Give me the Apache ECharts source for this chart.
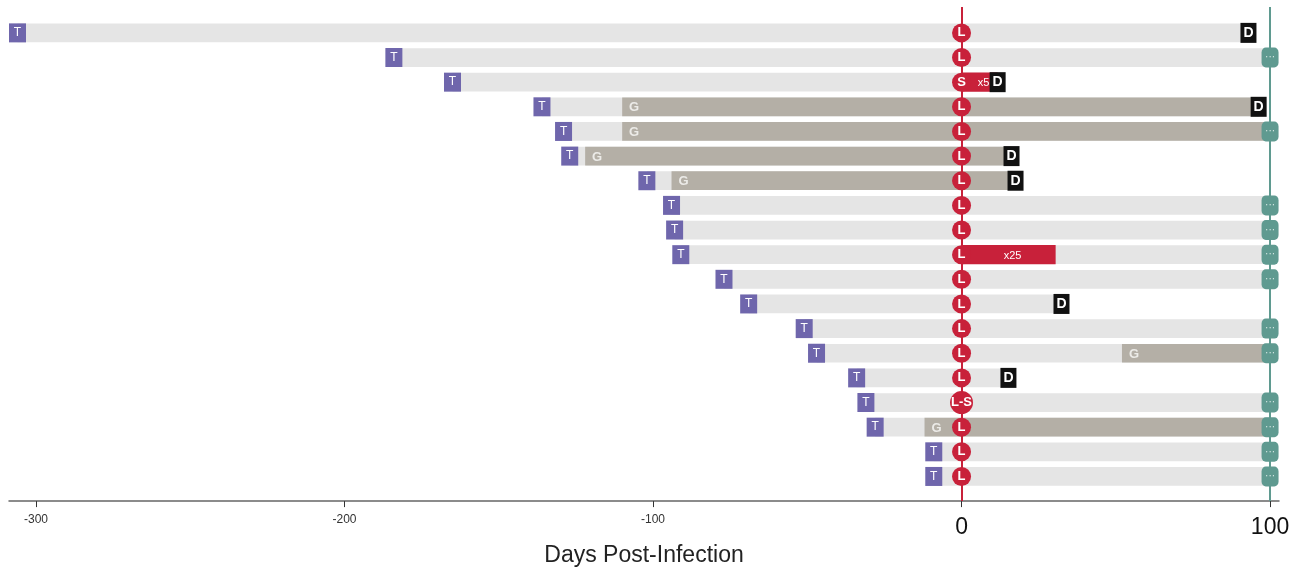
<!DOCTYPE html>
<html>
<head>
<meta charset="utf-8">
<script src="https://cdn.jsdelivr.net/npm/echarts@6/dist/echarts.min.js"></script>
<style>
  html, body { margin: 0; padding: 0; background: #fff; }
  #chart { width: 1308px; height: 572px; }
</style>
</head>
<body>
<div id="chart"></div>
<script>
// one entry per patient row, top to bottom (days post-infection)
var transplantDay = [-306, -184, -165, -136, -129, -127, -102, -94, -93, -91, -77, -69, -51, -47, -34, -31, -28, -9, -9];
var graftDay = [null, null, null, -110, -110, -122, -94, null, null, null, null, null, null, 52, null, null, -12, null, null];
var lastDay = [93, 100, 11.7, 96.3, 100, 16.2, 17.5, 100, 100, 100, 100, 32.4, 100, 100, 15.2, 100, 100, 100, 100];
var outcome = ['D', '...', 'D', 'D', '...', 'D', 'D', '...', '...', '...', '...', 'D', '...', '...', 'D', '...', '...', '...', '...'];
var infectionMark = ['L', 'L', 'S', 'L', 'L', 'L', 'L', 'L', 'L', 'L', 'L', 'L', 'L', 'L', 'L', 'L-S', 'L', 'L', 'L'];
// shedding bars: row, from, to, label
var sheddingRow = [2, 9];
var sheddingFrom = [0, 0];
var sheddingTo = [11.7, 30.5];
var sheddingText = ['x5', 'x25'];
var tickValues = [-300, -200, -100, 0, 100];

var FONT = 'Liberation Sans';
var chart = echarts.init(document.getElementById('chart'));

var lightData = transplantDay.map(function (t, i) { return [i, t, lastDay[i]]; });
var darkData = [];
graftDay.forEach(function (g, i) {
  if (g !== null) darkData.push([i, g, lastDay[i]]);
});
var redData = sheddingRow.map(function (r, i) {
  return [r, sheddingFrom[i], sheddingTo[i], sheddingText[i]];
});
var tData = transplantDay.map(function (t, i) { return [t, i]; });
var lData = infectionMark.map(function (m, i) {
  return { value: [0, i], name: m, symbolSize: m === 'L-S' ? 23 : 19 };
});
var dData = [], endData = [];
outcome.forEach(function (o, i) {
  if (o === 'D') dData.push([lastDay[i], i]);
  else endData.push([lastDay[i], i]);
});

function barItem(color, withG) {
  return function (params, api) {
    var row = api.value(0);
    var p0 = api.coord([api.value(1), row]);
    var p1 = api.coord([api.value(2), row]);
    var h = api.size([0, 1])[1] * 0.76;
    var children = [{
      type: 'rect',
      shape: { x: p0[0], y: p0[1] - h / 2, width: p1[0] - p0[0], height: h },
      style: { fill: color }
    }];
    if (withG) {
      children.push({
        type: 'text',
        x: p0[0] + 12, y: p0[1] + 1,
        style: { text: 'G', fill: '#ecebe8', font: 'bold 13px ' + FONT, align: 'center', verticalAlign: 'middle' }
      });
    }
    return { type: 'group', children: children };
  };
}

var option = {
  animation: false,
  grid: { left: 9, right: 29, top: 7, bottom: 69 },
  xAxis: {
    type: 'value',
    min: -308.75,
    max: 102.9,
    splitLine: { show: false },
    axisLine: { onZero: false, lineStyle: { color: '#666', width: 1.5 } },
    axisTick: { customValues: tickValues, length: 6, lineStyle: { color: '#333' } },
    axisLabel: {
      customValues: tickValues,
      margin: 12,
      formatter: function (v) {
        return v >= 0 ? '{big|' + v + '}' : '{small|' + v + '}';
      },
      rich: {
        small: { fontSize: 12, color: '#333', fontFamily: FONT, padding: [1, 0, 0, 0] },
        big: { fontSize: 23, color: '#111', fontFamily: FONT, padding: [3, 0, 0, 0] }
      }
    },
    name: 'Days Post-Infection',
    nameLocation: 'middle',
    nameGap: 39,
    nameTextStyle: { fontSize: 23, color: '#222', fontFamily: FONT }
  },
  yAxis: { type: 'value', inverse: true, min: -1.05, max: 19, show: false },
  series: [
    {
      type: 'scatter', data: [], z: 1, silent: true,
      markLine: {
        silent: true, symbol: ['none', 'none'], label: { show: false },
        data: [
          { xAxis: 0, lineStyle: { color: '#c8213a', width: 2, type: 'solid' } },
          { xAxis: 100, lineStyle: { color: '#5f9a90', width: 2, type: 'solid' } }
        ]
      }
    },
    { type: 'custom', z: 2, renderItem: barItem('#e5e5e5', false), data: lightData },
    { type: 'custom', z: 3, renderItem: barItem('#b4afa6', true), data: darkData },
    {
      type: 'custom', z: 4, data: redData,
      renderItem: function (params, api) {
        var row = api.value(0);
        var p0 = api.coord([api.value(1), row]);
        var p1 = api.coord([api.value(2), row]);
        var h = api.size([0, 1])[1] * 0.78;
        return {
          type: 'group',
          children: [{
            type: 'rect',
            shape: { x: p0[0], y: p0[1] - h / 2, width: p1[0] - p0[0], height: h },
            style: { fill: '#c8213a' }
          }, {
            type: 'text',
            x: (p0[0] + p1[0]) / 2 + 4, y: p0[1] + 1,
            style: { text: redData[params.dataIndex][3], fill: '#fff', font: '11px ' + FONT, align: 'center', verticalAlign: 'middle' }
          }]
        };
      }
    },
    {
      type: 'scatter', z: 5, data: tData, symbol: 'rect', symbolSize: [17, 19],
      itemStyle: { color: '#6f66ac', opacity: 1 },
      label: { show: true, position: 'inside', formatter: 'T', color: '#fff', fontSize: 12, fontFamily: FONT }
    },
    {
      type: 'scatter', z: 6, data: lData, symbol: 'circle',
      itemStyle: { color: '#c8213a', opacity: 1 },
      label: {
        show: true, position: 'inside', color: '#fff', fontSize: 13, fontWeight: 'bold', fontFamily: FONT,
        formatter: function (p) { return p.name; }
      }
    },
    {
      type: 'scatter', z: 6, data: dData, symbol: 'rect', symbolSize: [16, 20],
      itemStyle: { color: '#111', opacity: 1 },
      label: { show: true, position: 'inside', formatter: 'D', color: '#fff', fontSize: 14, fontWeight: 'bold', fontFamily: FONT }
    },
    {
      type: 'scatter', z: 6, data: endData, symbol: 'roundRect', symbolSize: [17, 20],
      itemStyle: { color: '#5f9a90', opacity: 1 },
      label: { show: true, position: 'inside', formatter: '···', color: '#dcebe8', fontSize: 10, fontFamily: FONT }
    }
  ]
};

chart.setOption(option);
</script>
</body>
</html>
